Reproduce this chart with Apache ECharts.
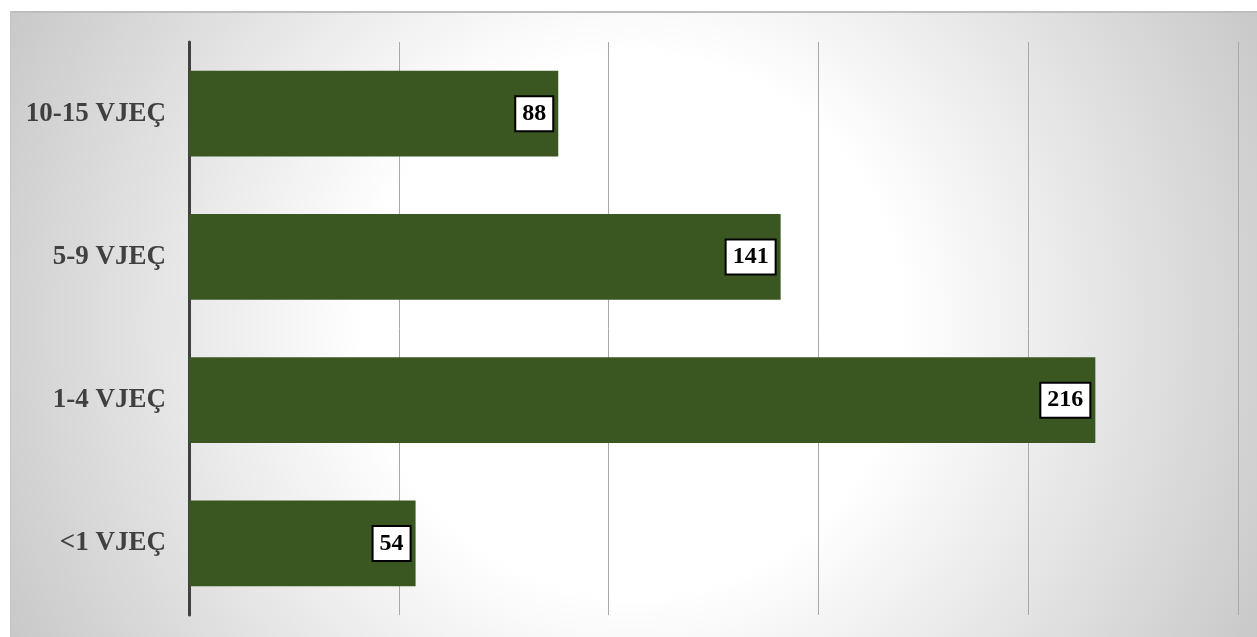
<!DOCTYPE html>
<html>
<head>
<meta charset="utf-8">
<script src="https://cdn.jsdelivr.net/npm/echarts@6/dist/echarts.min.js"></script>
<style>
  html, body { margin: 0; padding: 0; background: #fff; }
  #chart { width: 1257px; height: 637px; }
</style>
</head>
<body>
<div id="chart"></div>
<script>
// age groups, bottom to top as in the picture
const categories = ['<1 VJEÇ', '1-4 VJEÇ', '5-9 VJEÇ', '10-15 VJEÇ'];
const values = [54, 216, 141, 88];

const chart = echarts.init(document.getElementById('chart'));

const option = {
  animation: false,
  graphic: [
    {
      type: 'rect',
      z: -10,
      silent: true,
      shape: { x: 10, y: 12, width: 1247, height: 625 },
      style: {
        fill: new echarts.graphic.RadialGradient(0.5, 0.5, 1.2, [
          { offset: 0, color: '#ffffff' },
          { offset: 0.36, color: '#ffffff' },
          { offset: 0.83, color: '#d2d2d2' },
          { offset: 1, color: '#c2c2c2' }
        ]),
        stroke: null
      }
    },
    {
      type: 'line',
      z: -9,
      silent: true,
      shape: { x1: 10, y1: 12, x2: 1257, y2: 12 },
      style: { stroke: '#bdbdbd', lineWidth: 2 }
    },
    {
      type: 'line',
      z: -9,
      silent: true,
      shape: { x1: 10.5, y1: 12, x2: 10.5, y2: 637 },
      style: { stroke: '#c4c4c4', lineWidth: 1 }
    }
  ],
  grid: {
    left: 189,
    right: 19,
    top: 42,
    bottom: 22
  },
  xAxis: {
    type: 'value',
    min: 0,
    max: 250,
    interval: 50,
    axisLine: { show: false },
    axisTick: { show: false },
    axisLabel: { show: false },
    splitLine: {
      lineStyle: { color: '#a8a8a8', width: 1 }
    }
  },
  yAxis: {
    type: 'category',
    data: categories,
    axisLine: {
      lineStyle: { color: '#404040', width: 3 }
    },
    axisTick: { show: false },
    axisLabel: {
      margin: 23,
      color: '#404040',
      fontFamily: 'Liberation Serif, serif',
      fontWeight: 'bold',
      fontSize: 27
    }
  },
  series: [
    {
      type: 'bar',
      data: values,
      barWidth: '60%',
      itemStyle: {
        color: '#3a5722',
        borderColor: '#7d957000',
        borderWidth: 0
      },
      label: {
        show: true,
        position: 'insideRight',
        distance: 6,
        color: '#000',
        fontFamily: 'Liberation Serif, serif',
        fontWeight: 'bold',
        fontSize: 24,
        lineHeight: 24,
        backgroundColor: '#ffffff',
        borderColor: '#000000',
        borderWidth: 2,
        padding: [5, 6, 4, 6]
      }
    }
  ]
};

chart.setOption(option);
window.addEventListener('resize', () => chart.resize());
</script>
</body>
</html>
